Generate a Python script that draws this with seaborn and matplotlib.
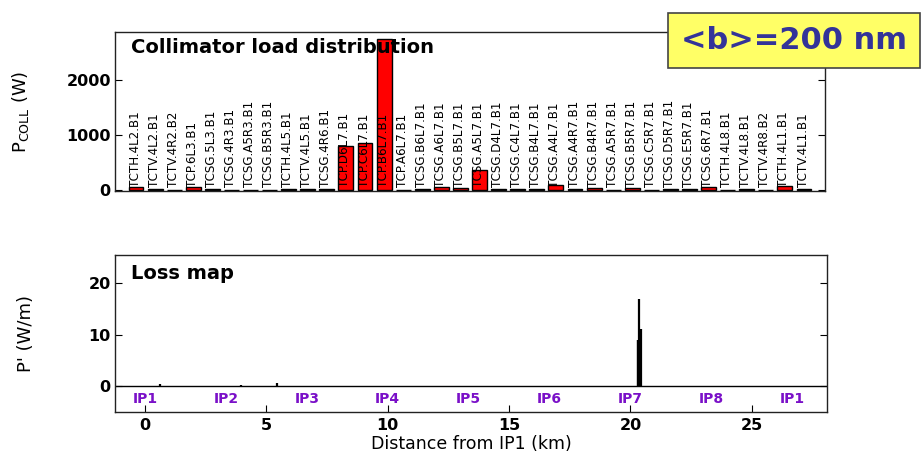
import numpy as np
import pandas as pd
import matplotlib
matplotlib.use("Agg")
import matplotlib.pyplot as plt
import seaborn as sns

# ---------------- data ----------------
collimators = [
    "TCTH.4L2.B1", "TCTV.4L2.B1", "TCTV.4R2.B2", "TCP.6L3.B1", "TCSG.5L3.B1",
    "TCSG.4R3.B1", "TCSG.A5R3.B1", "TCSG.B5R3.B1", "TCTH.4L5.B1", "TCTV.4L5.B1",
    "TCSG.4R6.B1", "TCP.D6L7.B1", "TCP.C6L7.B1", "TCP.B6L7.B1", "TCP.A6L7.B1",
    "TCSG.B6L7.B1", "TCSG.A6L7.B1", "TCSG.B5L7.B1", "TCSG.A5L7.B1", "TCSG.D4L7.B1",
    "TCSG.C4L7.B1", "TCSG.B4L7.B1", "TCSG.A4L7.B1", "TCSG.A4R7.B1", "TCSG.B4R7.B1",
    "TCSG.A5R7.B1", "TCSG.B5R7.B1", "TCSG.C5R7.B1", "TCSG.D5R7.B1", "TCSG.E5R7.B1",
    "TCSG.6R7.B1", "TCTH.4L8.B1", "TCTV.4L8.B1", "TCTV.4R8.B2", "TCTH.4L1.B1",
    "TCTV.4L1.B1",
]
coll_load_w = [
    60, 10, 0, 50, 10,
    0, 0, 0, 8, 8,
    8, 790, 850, 2745, 0,
    10, 50, 35, 364, 8,
    8, 8, 80, 8, 40,
    0, 40, 0, 8, 8,
    55, 0, 8, 0, 75,
    8,
]

loss_s_km = [0.63, 3.94, 5.42, 20.30, 20.33, 20.36, 20.39, 20.42]
loss_w_per_m = [0.5, 0.3, 0.6, 9.0, 9.0, 16.8, 11.0, 11.0]

ip_names = ["IP1", "IP2", "IP3", "IP4", "IP5", "IP6", "IP7", "IP8", "IP1"]
ip_km = [0.0, 3.332, 6.664, 9.997, 13.329, 16.661, 19.994, 23.315, 26.659]

top_yticks = [0, 1000, 2000]
bot_yticks = [0, 10, 20]
bot_xticks = [0, 5, 10, 15, 20, 25]

# ---------------- style ----------------
sns.set_style("ticks")
plt.rcParams["font.family"] = ["DejaVu Sans"]
plt.rcParams["axes.linewidth"] = 1.0
plt.rcParams["axes.edgecolor"] = "#222222"
plt.rcParams["text.color"] = "black"
plt.rcParams["axes.labelcolor"] = "black"
plt.rcParams["xtick.color"] = "black"
plt.rcParams["ytick.color"] = "black"

fig = plt.figure(figsize=(9.23, 4.57), dpi=100)
ax1 = fig.add_axes([115 / 923, 1 - 191 / 457, 710 / 923, 159 / 457])
ax2 = fig.add_axes([115 / 923, 1 - 412 / 457, 712 / 923, 157 / 457])

# ---------------- top: collimator loads ----------------
df = pd.DataFrame({"coll": collimators, "load": coll_load_w})
sns.barplot(data=df, x="coll", y="load", color="red", saturation=1,
            edgecolor="black", linewidth=1.0, width=0.78, ax=ax1)
for i, name in enumerate(collimators):
    ax1.text(i - 0.05, 60, name, rotation=90, ha="center", va="bottom",
             fontsize=8.6, color="black")
ax1.set_xlim(-1.1, 36.1)
ax1.set_ylim(-20, 2870)
ax1.set_xticks([])
ax1.set_xlabel("")
ax1.set_yticks(top_yticks)
ax1.set_yticklabels([str(v) for v in top_yticks], fontsize=11.5, fontweight="bold")
ax1.tick_params(axis="y", direction="in", right=True, length=5, pad=3)
ax1.set_ylabel(r"P$_{\mathregular{COLL}}$ (W)", fontsize=13)
ax1.yaxis.set_label_coords(-0.119, 0.5)
ax1.text(0.022, 0.90, "Collimator load distribution", transform=ax1.transAxes,
         fontsize=14, fontweight="bold", ha="left", va="center")

# ---------------- bottom: loss map ----------------
ax2.vlines(loss_s_km, 0, loss_w_per_m, color="black", linewidth=1.6)
ax2.axhline(0, color="black", linewidth=1.0)
for x, name in zip(ip_km, ip_names):
    ax2.text(x, -2.4, name, ha="center", va="center", color="#7a10c8",
             fontsize=10, fontweight="bold")
ax2.set_xlim(-1.24, 28.1)
ax2.set_ylim(-5.0, 25.4)
ax2.set_xticks(bot_xticks)
ax2.set_xticklabels([str(v) for v in bot_xticks], fontsize=11.5, fontweight="bold")
ax2.set_yticks(bot_yticks)
ax2.set_yticklabels([str(v) for v in bot_yticks], fontsize=11.5, fontweight="bold")
ax2.tick_params(axis="both", direction="in", right=True, length=5, pad=3)
ax2.tick_params(axis="x", pad=4)
ax2.set_ylabel("P' (W/m)", fontsize=13)
ax2.yaxis.set_label_coords(-0.112, 0.5)
ax2.set_xlabel("Distance from IP1 (km)", fontsize=12.5, labelpad=2)
ax2.text(0.022, 0.88, "Loss map", transform=ax2.transAxes,
         fontsize=14, fontweight="bold", ha="left", va="center")

# ---------------- annotation box ----------------
fig.text(0.860, 0.912, "<b>=200 nm", ha="center", va="center",
         fontsize=22, fontweight="bold", color="#333399",
         bbox=dict(boxstyle="square,pad=0.42", facecolor="#ffff66",
                   edgecolor="#444444", linewidth=1.2))

fig.savefig("out.png", dpi=100)
